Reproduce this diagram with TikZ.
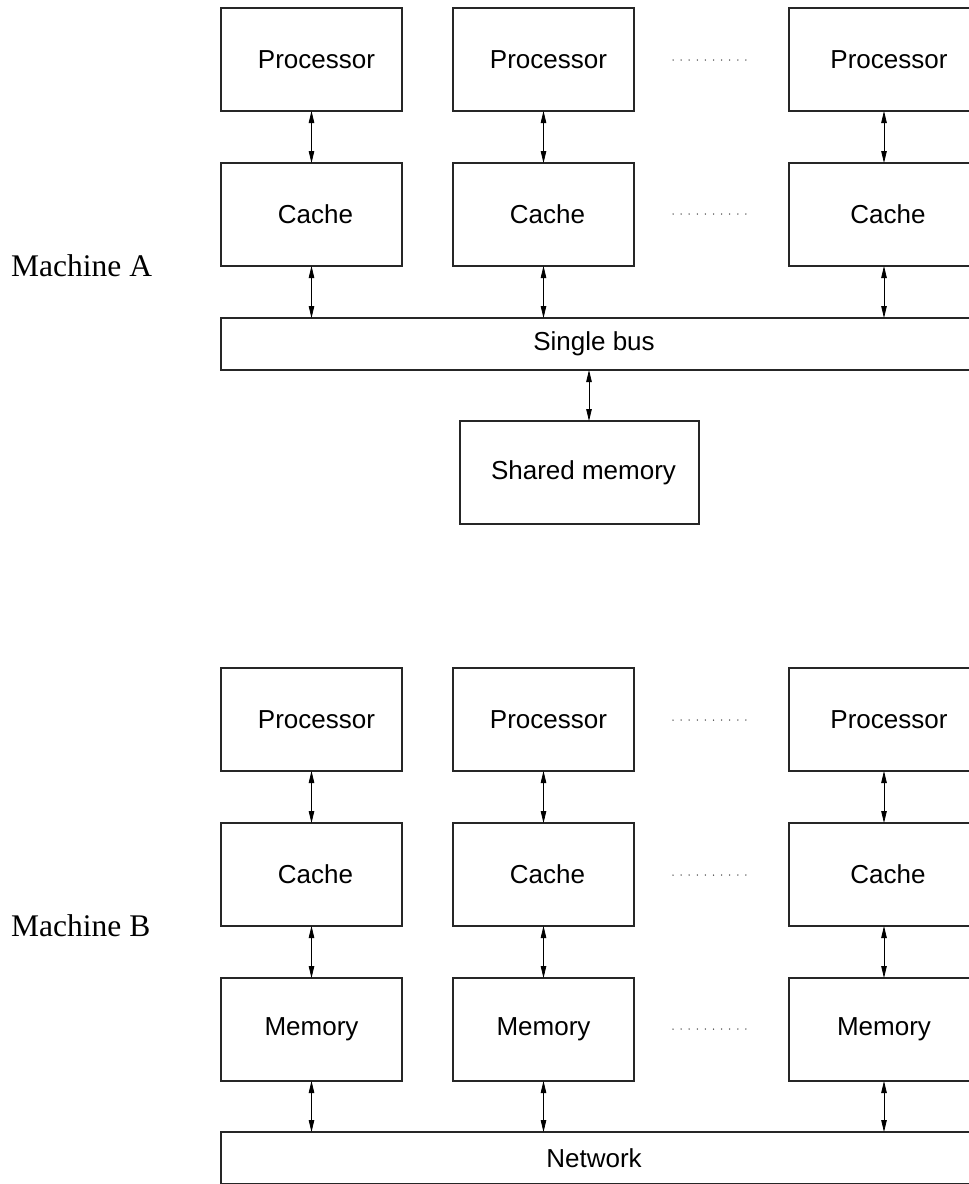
\documentclass[tikz,border=0pt]{standalone}
\usepackage{fontspec}
\setmainfont{Liberation Serif}
\newfontfamily\boxfont{Liberation Sans}
\usetikzlibrary{arrows.meta}
\begin{document}
\begin{tikzpicture}[x=1pt,y=-1pt,
  unit/.style={draw=black!85, line width=1.1pt, rectangle, inner sep=0pt, outer sep=0pt,
    minimum height=103pt, anchor=north west,
    font=\boxfont\fontsize{26}{30}\selectfont},
  busbox/.style={unit, minimum height=52pt, minimum width=770pt},
  link/.style={{Triangle[length=12pt,width=5.5pt]}-{Triangle[length=12pt,width=5.5pt]}, line width=0.8pt, black},
  machine/.style={anchor=base west, inner sep=0pt, font=\fontsize{31.5}{36}\selectfont},
  dotfill/.style={fill=black!75}]
\useasboundingbox (0,0) rectangle (969,1184);
\clip (0,0) rectangle (969,1184);

% ---------- Machine A ----------
\node[machine] (labA) at (11,276) {Machine A};
\foreach \i/\x/\w in {1/221/181, 2/453/181, 3/789/190} {
  \node[unit, minimum width=\w pt] (pa\i) at (\x,8) {\hspace*{10pt}Processor};
  \node[unit, minimum width=\w pt] (ca\i) at (\x,163) {\hspace*{8pt}Cache};
}
\node[busbox] (bus) at (221,318) {\hspace*{-24pt}Single bus};
\node[unit, minimum width=239pt] (sm) at (460,421) {\hspace*{8pt}Shared memory};

\foreach \i in {1,2,3} {
  \draw[link] (pa\i.south) -- (ca\i.north);
  \draw[link] (ca\i.south) -- (ca\i.south |- bus.north);
}
\coordinate (smtop) at ([xshift=9.5pt]sm.north);
\draw[link] (smtop |- bus.south) -- (smtop);

% ---------- Machine B ----------
\node[machine] (labB) at (11,936) {Machine B};
\foreach \i/\x/\w in {1/221/181, 2/453/181, 3/789/190} {
  \node[unit, minimum width=\w pt] (pb\i) at (\x,668) {\hspace*{10pt}Processor};
  \node[unit, minimum width=\w pt] (cb\i) at (\x,823) {\hspace*{8pt}Cache};
  \node[unit, minimum width=\w pt] (mb\i) at (\x,978) {Memory};
}
\node[busbox] (net) at (221,1132) {\hspace*{-24pt}Network};

\foreach \i in {1,2,3} {
  \draw[link] (pb\i.south) -- (cb\i.north);
  \draw[link] (cb\i.south) -- (mb\i.north);
  \draw[link] (mb\i.south) -- (mb\i.south |- net.north);
}

% ---------- ellipsis dots ----------
\foreach \y in {60,214,720,875,1029} {
  \foreach \k in {0,...,9} {
    \fill[dotfill] (673+8.1*\k,\y) circle (0.75pt);
  }
}
\end{tikzpicture}
\end{document}
